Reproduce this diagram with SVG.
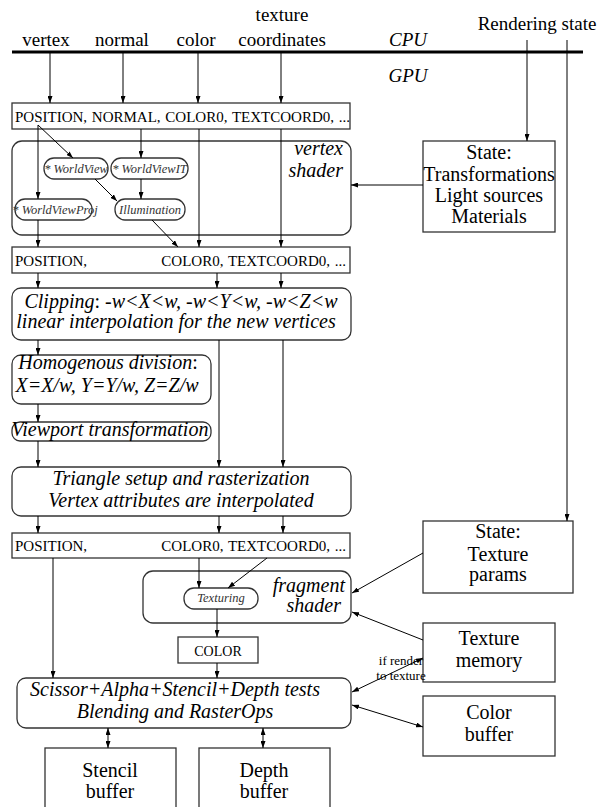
<svg xmlns="http://www.w3.org/2000/svg" width="602" height="807" viewBox="0 0 602 807" font-family="'Liberation Serif', 'Times New Roman', serif">
<defs>
<marker id="ah" markerUnits="userSpaceOnUse" markerWidth="7" markerHeight="5" refX="7" refY="2.5" orient="auto-start-reverse"><path d="M0,0 L7,2.5 L0,5 z" fill="#000"/></marker>
</defs>
<style>
text{font-family:"Liberation Serif","Times New Roman",serif;fill:#000}
.lbl{font-size:19px}
.it{font-style:italic}
.big{font-size:20px;font-style:italic}
.box{fill:#fff;stroke:#333;stroke-width:1.3}
.attr{font-size:15px}
.pill{font-size:12.5px;font-style:italic;fill:#333}
.up{font-size:20px}
.c{text-anchor:middle}
.e{text-anchor:end}
.conn line{stroke:#000;stroke-width:1;fill:none}
.ar{marker-end:url(#ah)}
.dbl{marker-start:url(#ah);marker-end:url(#ah)}
</style>
<rect width="602" height="807" fill="#fff"/>
<g id="header">
<line x1="12" y1="52" x2="583" y2="52" stroke="#000" stroke-width="3"/>
<text class="lbl c" x="46" y="46">vertex</text>
<text class="lbl c" x="122" y="46">normal</text>
<text class="lbl c" x="196" y="46">color</text>
<text class="lbl c" x="282" y="21">texture</text>
<text class="lbl c" x="282" y="46">coordinates</text>
<text class="lbl it c" x="408" y="46">CPU</text>
<text class="lbl c" x="537" y="30">Rendering state</text>
<text class="lbl it c" x="408" y="82">GPU</text>
</g>
<g id="attr-in"><rect class="box" x="12" y="103" width="338" height="26"/><text class="attr" x="15" y="122" word-spacing="1">POSITION, NORMAL, COLOR0, TEXTCOORD0, ...</text></g>
<g id="vertex-shader"><rect class="box" x="12" y="141" width="339" height="94" rx="10"/><text class="big e" x="343" y="155">vertex</text><text class="big e" x="343" y="177">shader</text></g>
<g id="worldview"><rect class="box" x="44" y="158" width="64" height="21" rx="10"/><text class="pill c" x="76" y="172.5">* WorldView</text></g>
<g id="worldviewit"><rect class="box" x="111" y="158" width="77" height="21" rx="10"/><text class="pill c" x="149.5" y="172.5">* WorldViewIT</text></g>
<g id="worldviewproj"><rect class="box" x="15" y="199" width="77" height="21" rx="10"/><text class="pill c" x="55" y="213.5">* WorldViewProj</text></g>
<g id="illumination"><rect class="box" x="115" y="199" width="70" height="21" rx="10"/><text class="pill c" x="150" y="213.5">Illumination</text></g>
<g id="state-transform"><rect class="box" x="423" y="141" width="132" height="91"/><text class="up c" x="489" y="159">State:</text><text class="up c" x="489" y="181">Transformations</text><text class="up c" x="489" y="202">Light sources</text><text class="up c" x="489" y="223">Materials</text></g>
<g id="attr-out"><rect class="box" x="12" y="247" width="338" height="26"/><text class="attr" x="15" y="266">POSITION,</text><text class="attr e" x="346" y="266" word-spacing="1">COLOR0, TEXTCOORD0, ...</text></g>
<g id="clipping"><rect class="box" x="12" y="288" width="339" height="52" rx="9"/><text class="big c" x="181" y="308">Clipping<tspan style="font-style:normal">:</tspan> -w&lt;X&lt;w, -w&lt;Y&lt;w, -w&lt;Z&lt;w</text><text class="big c" x="176" y="328">linear interpolation for the new vertices</text></g>
<g id="homogenous"><rect class="box" x="12" y="355" width="199" height="49" rx="9"/><text class="big c" x="108" y="369">Homogenous division<tspan style="font-style:normal">:</tspan></text><text class="big c" x="107" y="392">X=X/w, Y=Y/w, Z=Z/w</text></g>
<g id="viewport"><rect class="box" x="12" y="422" width="199" height="19" rx="8"/><text class="big c" x="110" y="436">Viewport transformation</text></g>
<g id="triangle-setup"><rect class="box" x="12" y="467" width="339" height="49" rx="9"/><text class="big c" x="181" y="485">Triangle setup and rasterization</text><text class="big c" x="181" y="507">Vertex attributes are interpolated</text></g>
<g id="attr-frag"><rect class="box" x="12" y="533" width="338" height="25"/><text class="attr" x="15" y="551">POSITION,</text><text class="attr e" x="346" y="551" word-spacing="1">COLOR0, TEXTCOORD0, ...</text></g>
<g id="fragment-shader"><rect class="box" x="143" y="571" width="208" height="52" rx="10"/><text class="big e" x="345" y="592">fragment</text><text class="big e" x="341" y="612">shader</text></g>
<g id="texturing"><rect class="box" x="184" y="588" width="74" height="21" rx="10"/><text class="pill c" x="221" y="602">Texturing</text></g>
<g id="state-texture"><rect class="box" x="423" y="521" width="150" height="72"/><text class="up c" x="498" y="538">State:</text><text class="up c" x="498" y="561">Texture</text><text class="up c" x="498" y="581">params</text></g>
<g id="color"><rect class="box" x="178" y="637" width="80" height="26"/><text class="c" x="218" y="656" style="font-size:14px">COLOR</text></g>
<g id="texture-memory"><rect class="box" x="423" y="623" width="132" height="59"/><text class="up c" x="489" y="645">Texture</text><text class="up c" x="489" y="667">memory</text></g>
<g id="raster-ops"><rect class="box" x="17" y="678" width="334" height="50" rx="9"/><text class="big c" x="175" y="696">Scissor+Alpha+Stencil+Depth tests</text><text class="big c" x="175" y="718">Blending and RasterOps</text></g>
<g id="color-buffer"><rect class="box" x="423" y="696" width="132" height="60"/><text class="up c" x="489" y="719">Color</text><text class="up c" x="489" y="741">buffer</text></g>
<g id="stencil-buffer"><rect class="box" x="45" y="748" width="131" height="62"/><text class="up c" x="110" y="777">Stencil</text><text class="up c" x="110" y="798">buffer</text></g>
<g id="depth-buffer"><rect class="box" x="199" y="748" width="131" height="62"/><text class="up c" x="264" y="777">Depth</text><text class="up c" x="264" y="798">buffer</text></g>
<g id="label-render-to-texture"><text class="c" x="401" y="665" style="font-size:13px">if render</text><text class="c" x="401" y="680" style="font-size:13px">to texture</text></g>
<g class="conn" id="connectors">
<line class="ar" x1="50" y1="53" x2="50" y2="103"/>
<line class="ar" x1="123" y1="53" x2="123" y2="103"/>
<line class="ar" x1="198" y1="53" x2="198" y2="103"/>
<line class="ar" x1="281" y1="53" x2="281" y2="103"/>
<line class="ar" x1="527" y1="40" x2="527" y2="141"/>
<line class="ar" x1="567" y1="40" x2="567" y2="521"/>
<line class="ar" x1="38" y1="125" x2="73" y2="158"/>
<line class="ar" x1="38" y1="125" x2="38" y2="199"/>
<line class="ar" x1="141" y1="129" x2="141" y2="158"/>
<line class="ar" x1="95" y1="179" x2="117" y2="201"/>
<line class="ar" x1="141" y1="179" x2="141" y2="199"/>
<line class="ar" x1="38" y1="220" x2="38" y2="247"/>
<line class="ar" x1="152" y1="220" x2="178" y2="247"/>
<line class="ar" x1="199" y1="129" x2="199" y2="247"/>
<line class="ar" x1="281" y1="129" x2="281" y2="247"/>
<line class="ar" x1="423" y1="185" x2="351" y2="185"/>
<line class="ar" x1="38" y1="273" x2="38" y2="288"/>
<line class="ar" x1="217" y1="273" x2="217" y2="288"/>
<line class="ar" x1="281" y1="273" x2="281" y2="288"/>
<line class="ar" x1="38" y1="340" x2="38" y2="355"/>
<line class="ar" x1="38" y1="404" x2="38" y2="422"/>
<line class="ar" x1="38" y1="441" x2="38" y2="467"/>
<line class="ar" x1="219" y1="340" x2="219" y2="467"/>
<line class="ar" x1="283" y1="340" x2="283" y2="467"/>
<line class="ar" x1="38" y1="516" x2="38" y2="533"/>
<line class="ar" x1="219" y1="516" x2="219" y2="533"/>
<line class="ar" x1="283" y1="516" x2="283" y2="533"/>
<line class="ar" x1="199" y1="558" x2="199" y2="588"/>
<line class="ar" x1="267" y1="558" x2="228" y2="588"/>
<line class="ar" x1="53" y1="558" x2="53" y2="678"/>
<line class="ar" x1="423" y1="553" x2="352" y2="593"/>
<line class="ar" x1="423" y1="640" x2="352" y2="612"/>
<line class="ar" x1="217" y1="609" x2="217" y2="637"/>
<line class="ar" x1="217" y1="663" x2="217" y2="678"/>
<line class="dbl" x1="423" y1="658" x2="352" y2="692"/>
<line class="dbl" x1="352" y1="705" x2="423" y2="727"/>
<line class="dbl" x1="108" y1="728" x2="108" y2="748"/>
<line class="dbl" x1="263" y1="728" x2="263" y2="748"/>
</g>
</svg>
